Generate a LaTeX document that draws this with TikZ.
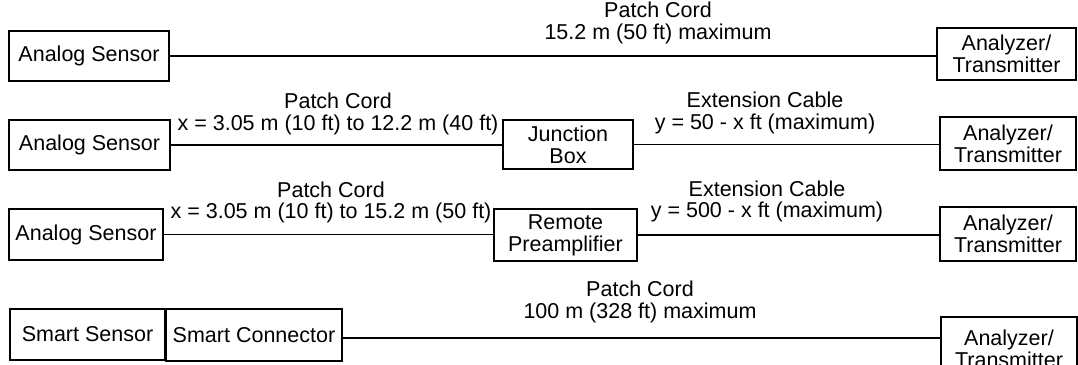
\documentclass[tikz,border=0pt]{standalone}
\usepackage{fontspec}
\setmainfont{Liberation Sans}
\begin{document}
\begin{tikzpicture}[x=1pt,y=-1pt,
  box/.style={draw,line width=1.8pt,rectangle,inner sep=0pt,align=center,font=\fontsize{21.5}{22}\selectfont},
  lbl/.style={inner sep=0pt,align=center,font=\fontsize{21.5}{21.5}\selectfont},
  wire/.style={line width=1.8pt}]
\useasboundingbox (0,0) rectangle (1078,364);
% row 1
\node[box,minimum width=160,minimum height=50] (as1) at (89,56) {Analog Sensor};
\node[box,minimum width=139,minimum height=52] (an1) at (1006.5,54) {Analyzer/\\Transmitter};
\node[lbl] (l1) at (658,23) {Patch Cord\\15.2 m (50 ft) maximum};
\draw[wire] (as1.east) -- (as1.east -| an1.west);
% row 2
\node[box,minimum width=161,minimum height=50] (as2) at (89.5,145) {Analog Sensor};
\node[box,minimum width=130,minimum height=49] (jb) at (568,144.5) {Junction\\Box};
\node[box,minimum width=136,minimum height=53] (an2) at (1008,143.5) {Analyzer/\\Transmitter};
\node[lbl] (l2a) at (338,114) {Patch Cord\\x = 3.05 m (10 ft) to 12.2 m (40 ft)};
\node[lbl] (l2b) at (765,113) {Extension Cable\\y = 50 - x ft (maximum)};
\draw[wire] (as2.east) -- (as2.east -| jb.west);
\draw[wire] (jb.east) -- (jb.east -| an2.west);
% row 3
\node[box,minimum width=154,minimum height=51] (as3) at (86,234.5) {Analog Sensor};
\node[box,minimum width=143,minimum height=52] (rp) at (565.5,235) {Remote\\Preamplifier};
\node[box,minimum width=136,minimum height=54] (an3) at (1008,234) {Analyzer/\\Transmitter};
\node[lbl] (l3a) at (331,202.5) {Patch Cord\\x = 3.05 m (10 ft) to 15.2 m (50 ft)};
\node[lbl] (l3b) at (767,201.5) {Extension Cable\\y = 500 - x ft (maximum)};
\draw[wire] (as3.east) -- (as3.east -| rp.west);
\draw[wire] (rp.east) -- (rp.east -| an3.west);
% row 4
\node[box,minimum width=155,minimum height=51] (ss) at (87.5,334.5) {Smart Sensor};
\node[box,minimum width=176,minimum height=52] (sc) at (254,335) {Smart Connector};
\node[box,minimum width=136,minimum height=64] (an4) at (1009,349) {Analyzer/\\Transmitter};
\node[lbl] (l4) at (640,302) {Patch Cord\\100 m (328 ft) maximum};
\draw[wire] ([yshift=-3pt]sc.east) -- ([yshift=-3pt]sc.east -| an4.west);
\end{tikzpicture}
\end{document}
